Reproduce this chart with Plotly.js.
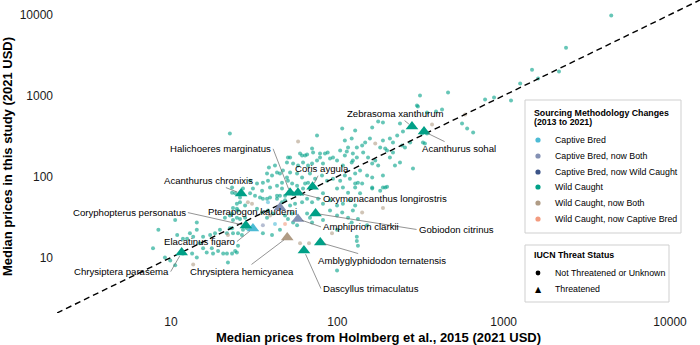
<!DOCTYPE html>
<html><head><meta charset="utf-8">
<script src="https://cdn.plot.ly/plotly-3.0.1.min.js"></script>
<style>html,body{margin:0;padding:0;background:#fff}#chart{width:700px;height:345px}</style>
</head><body><div id="chart"></div>
<script>
// ---------------- data ----------------
const categories = ["Captive Bred","Captive Bred, now Both","Captive Bred, now Wild Caught","Wild Caught","Wild Caught, now Both","Wild Caught, now Captive Bred"];
const categoryColors = ["#4DBBD5","#8491B4","#3C5488","#00A087","#B09C85","#F39B7F"];
const threatLevels = ["Not Threatened or Unknown","Threatened"];
const tickVals = [10,100,1000,10000];
const tickText = ["10","100","1000","10000"];
const axisLogRange = [0.315, 4.18];

// Non-threatened species: [Holmberg 2015 median, this-study median] (2021 USD)
const captiveBredPts = [[42.2,26],[38.3,48]];
const cbNowBothPts = [[35.7,25]];
const cbNowWildPts = [];
const wildCaughtPts = [
[4430,9770],[2370,3890],[1480,2090],[2150,1980],[1610,1620],[1256,1406],[773,893],[875,944],[1107,867],[463,1089],[314,1000],[301,753],[305,732],[346,617],[392,634],[426,672],[562,451],[603,392],[655,349],
[248,360],[238,451],[188,464],[162,403],[176,477],[128,370],[229,321],[207,294],[188,278],[216,263],[157,294],[147,263],[141,241],[131,228],[181,228],[194,222],[199,209],[216,198],[245,241],[255,228],[274,263],[327,263],[323,340],[238,149],[285,126],[153,172],[169,158],[176,137],[162,145],[143,198],[131,172],[124,158],[137,119],[128,109],[151,103],[162,97],[188,103],[188,73],[162,71],[128,82],[141,82],[207,172],[222,137],[346,340],[336,255],
[22.6,340],[75.5,321],[107,392],[64,182],[59.7,192],[71.5,198],[78.7,192],[84.3,192],[111,278],[122,294],[116,228],[104,209],[111,182],[124,192],[50.5,172],[49.8,149],[42.2,137],[43.4,112],[40.5,103],[37.8,109],[38.8,129],[54.2,145],[58.1,137],[62.2,149],[66.7,137],[70.5,145],[75.5,158],[82,145],[90.4,167],[99.6,158],[108,137],[122,149],[47.1,119],[52,112],[57.3,109],[61.4,97],[68.5,109],[73.5,94],[80.9,103],[86.7,89],[94.2,94],[104,89],[111,103],[119,94],[29.9,89],[32.9,82],[27.1,71],[31.1,71],[35.3,67],[39.4,73],[43.4,77],[46.5,84],[46.5,71],[35.7,84],[38.3,89],[50.5,89],[53.5,82],[57.3,77],[64,82],[66.7,84],[62.2,71],[54.2,62],[48.5,58],[43.4,58],[39.4,55],[35.7,53],[23.3,73],[24.3,62],[26,55],[99.6,71],[108,73],[116,63],[128,73],[82,62],[70.5,222],[78.7,172],[87.5,198],[94.2,172],[114,204],[52,172],[61.4,182],[65.8,187],[45.2,109],[49.8,97],
[29.9,62],[32,58],[34.3,55],[37.8,53],[43.4,53],[45.2,58],[46.5,48],[48.5,51],[52,44],[55.7,46],[61.4,48],[65.8,53],[70.5,48],[76.6,53],[82,46],[90.4,51],[99.6,44],[108,46],[119,51],[128,44],[26,48],[27.9,44],[23.6,41],[25.3,38],[23.3,35],[24.9,31],[32.9,40],[35.3,36],[38.3,38],[41,35],[37.8,31],[48.5,33],[53.5,35],[50.5,30],[54.2,27],[57.3,25],[65.8,35],[68.5,31],[70.5,27],[82,29],[90.4,38],[99.6,33],[107,36],[116,31],[124,38],[133,30],[22.6,23],[23.6,20],[25.3,20],[27.1,22],[24.9,11.5],[23.3,11.2],[35.7,20],[40.5,19],[45.2,22],[99.6,22],[131,18],[133,14],[99.6,6.9],
[23.3,63],[24.9,46],[24.9,40],[21.1,31],[22.6,33],[23.6,29],[26,30],[27.9,31],[14.3,27],[13,20],[14.3,22],[12.5,17],[13.6,18],[10.6,29],[8.4,22],[10.9,19],[11.8,17],[15.6,18],[17.2,19],[18.4,20],[19.7,22],[21.7,20],[23.3,23],[26.7,19],[7.8,13],[14.9,15],[15.6,13],[16.4,11.5],[17.6,13],[19.2,12],[20.6,11.2],[24.3,12],[25.3,14],[28.6,23],[9.2,10],[9.9,9.2],[13.4,11.2],[14.3,10],[11.8,11.2],[22,8.7],[10.6,8],[17.9,11.2],[21.7,11.2],
[133,84],[162,73],[181,67],[194,73],[199,75],[137,62],[122,27],[151,25],[131,16]
];
const wcNowBothPts = [[58.1,270],[29,48],[22,19],[141,36],[188,41],[67.6,15],[59.7,15],[92.9,20],[586,582],[371,439],[169,255],[13.6,8.2],[30.7,46],[39.4,33]];
const wcNowCaptivePts = [[48.5,26]];

// Threatened (IUCN) species, labelled
const threatNames = ["Zebrasoma xanthurum","Acanthurus sohal","Acanthurus chronixis","Coryphopterus personatus","Chrysiptera parasema","Halichoeres marginatus","Oxymonacanthus longirostris","Coris aygula","Gobiodon citrinus","Amblyglyphidodon ternatensis","Dascyllus trimaculatus","Elacatinus figaro","Pterapogon kauderni","Amphiprion clarkii","Chrysiptera hemicyanea"];
const threatCategory = ["Wild Caught","Wild Caught","Wild Caught","Wild Caught","Wild Caught","Wild Caught","Wild Caught","Wild Caught","Wild Caught","Wild Caught","Wild Caught","Captive Bred","Captive Bred, now Both","Captive Bred, now Both","Wild Caught, now Both"];
const threatX = [281,332,26.4,28.2,11.6,52,58,71,74,79,63,31.1,45.2,58,50];
const threatY = [414,359,61.6,24.8,11.5,63,63,75,35,15.3,12.2,22.8,41.4,30,17.7];

// ---------------- layout helpers (positions only) ----------------
const labelPos = {
 "Zebrasoma xanthurum":[-16,-13,"center"],
 "Acanthurus sohal":[35,17,"center"],
 "Acanthurus chronixis":[-33,-13,"center"],
 "Coryphopterus personatus":[-58,-13,"right"],
 "Chrysiptera parasema":[-11,19,"right"],
 "Halichoeres marginatus":[-17,-44,"right"],
 "Oxymonacanthus longirostris":[23,6,"left"],
 "Coris aygula":[9,-18,"center"],
 "Gobiodon citrinus":[101,16,"left"],
 "Amblyglyphidodon ternatensis":[62,18,"center"],
 "Dascyllus trimaculatus":[17,38,"left"],
 "Elacatinus figaro":[-16,13,"right"],
 "Pterapogon kauderni":[-27,4,"none"],
 "Amphiprion clarkii":[23,8,"left"],
 "Chrysiptera hemicyanea":[-45,34,"center"]
};
const M = {l:57, r:0, t:0, b:32};
const W = 700, H = 345;
const PW = W - M.l - M.r, PH = H - M.t - M.b;
const px = v => (v - M.l) / PW;
const py = v => (M.t + PH - v) / PH;
const FONT = "Liberation Sans, Arial, Helvetica, sans-serif";

// ---------------- traces ----------------
const ptsByCat = {
 "Captive Bred": captiveBredPts,
 "Captive Bred, now Both": cbNowBothPts,
 "Captive Bred, now Wild Caught": cbNowWildPts,
 "Wild Caught": wildCaughtPts,
 "Wild Caught, now Both": wcNowBothPts,
 "Wild Caught, now Captive Bred": wcNowCaptivePts
};
const traces = [];
const order = ["Wild Caught","Wild Caught, now Both","Wild Caught, now Captive Bred","Captive Bred","Captive Bred, now Both","Captive Bred, now Wild Caught"];
order.forEach(cat => {
  const pts = ptsByCat[cat];
  if (!pts.length) return;
  traces.push({type:"scatter", mode:"markers", name:cat, showlegend:false, hoverinfo:"skip",
    x: pts.map(p=>p[0]), y: pts.map(p=>p[1]),
    marker:{symbol:"circle", size:4, color:categoryColors[categories.indexOf(cat)], opacity:0.6, line:{width:0}}});
});
// 1:1 reference line spanning the axes
traces.push({type:"scatter", mode:"lines", showlegend:false, hoverinfo:"skip",
  x: axisLogRange.map(v=>Math.pow(10,v)), y: axisLogRange.map(v=>Math.pow(10,v)),
  line:{color:"#000", width:1.4, dash:"6px,4px"}});
categories.forEach((cat, ci) => {
  const idx = threatNames.map((n,i)=>i).filter(i=>threatCategory[i]===cat);
  if (!idx.length) return;
  traces.push({type:"scatter", mode:"markers", name:cat+" (threatened)", showlegend:false, hoverinfo:"skip",
    x: idx.map(i=>threatX[i]), y: idx.map(i=>threatY[i]), text: idx.map(i=>threatNames[i]),
    marker:{symbol:"triangle-up", size:11, color:categoryColors[ci], line:{width:0}}});
});

// ---------------- annotations ----------------
const annotations = threatNames.map((n,i) => {
  const [ax, ay, anc] = labelPos[n];
  const base = {x:Math.log10(threatX[i]), y:Math.log10(threatY[i]), xref:"x", yref:"y", text:n,
    font:{family:FONT, size:9.6, color:"#000"}};
  if (anc === "none") return Object.assign(base, {showarrow:false, xshift:ax, yshift:-ay});
  return Object.assign(base, {showarrow:true, ax:ax, ay:ay, xanchor:anc, yanchor:"middle",
    arrowhead:0, arrowwidth:0.7, arrowcolor:"#666", standoff:4});
});

// legends (manual, to reproduce ggplot spacing)
const shapes = [];
const leg1 = {x0:525, x1:681, y0:100, y1:233, titleY:[113,122], itemY:[140,156,172,187,203,219]};
const leg2 = {x0:525, x1:669, y0:245, y1:302, titleY:[255], itemY:[273,289]};
const mkX = 538, txtX = 553, ttlX = 532;
[leg1, leg2].forEach(L => shapes.push({type:"rect", xref:"paper", yref:"paper", layer:"above",
  x0:px(L.x0), x1:px(L.x1), y0:py(L.y1), y1:py(L.y0), line:{color:"#cfcfcf", width:1}, fillcolor:"#fff"}));
const legText = (t, x, y, bold, size) => ({xref:"paper", yref:"paper", x:px(x), y:py(y), xanchor:"left", yanchor:"middle",
  showarrow:false, text: bold ? "<b>"+t+"</b>" : t, font:{family:FONT, size:size, color:"#000"}});
annotations.push(legText("Sourcing Methodology Changes", ttlX, leg1.titleY[0], true, 8.8));
annotations.push(legText("(2013 to 2021)", ttlX, leg1.titleY[1], true, 8.8));
categories.forEach((cat, i) => {
  shapes.push({type:"circle", xref:"paper", yref:"paper", layer:"above", xsizemode:"pixel", ysizemode:"pixel",
    xanchor:px(mkX), yanchor:py(leg1.itemY[i]), x0:-2.6, x1:2.6, y0:-2.6, y1:2.6,
    fillcolor:categoryColors[i], line:{width:0}});
  annotations.push(legText(cat, txtX, leg1.itemY[i], false, 8.8));
});
annotations.push(legText("IUCN Threat Status", ttlX, leg2.titleY[0], true, 8.8));
shapes.push({type:"circle", xref:"paper", yref:"paper", layer:"above", xsizemode:"pixel", ysizemode:"pixel",
  xanchor:px(mkX), yanchor:py(leg2.itemY[0]), x0:-2.4, x1:2.4, y0:-2.4, y1:2.4, fillcolor:"#000", line:{width:0}});
annotations.push({xref:"paper", yref:"paper", x:px(mkX), y:py(leg2.itemY[1]), xanchor:"center", yanchor:"middle",
  showarrow:false, text:"▲", font:{family:"DejaVu Sans", size:8, color:"#000"}});
threatLevels.forEach((t, i) => annotations.push(legText(t, txtX, leg2.itemY[i], false, 8.8)));

const axisCommon = {type:"log", range:axisLogRange, tickvals:tickVals, ticktext:tickText,
  showgrid:false, zeroline:false, showline:false, ticks:"", automargin:false,
  tickfont:{family:FONT, size:12, color:"#1a1a1a"}};

const layout = {
  width:W, height:H, margin:M, paper_bgcolor:"#fff", plot_bgcolor:"#fff", showlegend:false,
  font:{family:FONT},
  xaxis:Object.assign({}, axisCommon, {title:{text:"<b>Median prices from Holmberg et al., 2015 (2021 USD)</b>",
    font:{family:FONT, size:13, color:"#000"}, standoff:4}}),
  yaxis:Object.assign({}, axisCommon, {ticklabelstandoff:3, title:{text:"<b>Median prices in this study (2021 USD)</b>",
    font:{family:FONT, size:13, color:"#000"}, standoff:4}}),
  shapes:shapes, annotations:annotations
};
Plotly.newPlot("chart", traces, layout, {staticPlot:true, displayModeBar:false});
</script></body></html>
